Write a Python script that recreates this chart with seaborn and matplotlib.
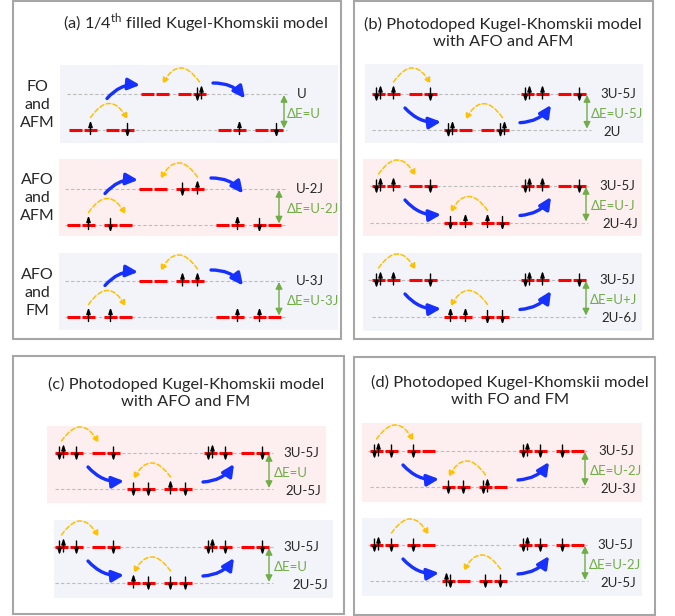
import matplotlib
matplotlib.use("Agg")
import matplotlib.pyplot as plt
from matplotlib.patches import FancyArrowPatch, Rectangle
import seaborn as sns

sns.set_theme(style="white")
plt.rcParams["font.family"] = ["Lato", "DejaVu Sans"]
plt.rcParams["mathtext.fontset"] = "custom"
plt.rcParams["mathtext.rm"] = "Lato"

# ---------------- content ----------------
title_a = "(a) 1/4$^{\\mathrm{th}}$ filled Kugel-Khomskii model"
title_b = "(b) Photodoped Kugel-Khomskii model\nwith AFO and AFM"
title_c = "(c) Photodoped Kugel-Khomskii model\nwith AFO and FM"
title_d = "(d) Photodoped Kugel-Khomskii model\nwith FO and FM"

row_labels_a = ["FO\nand\nAFM", "AFO\nand\nAFM", "AFO\nand\nFM"]

# Orbital occupations of a two-site state: ((site A orb1, orb2), (site B orb1, orb2))
# 'u' = spin up, 'd' = spin down, two letters = doubly occupied orbital
a_outer = [(("", "u"), ("", "d")), (("", "u"), ("d", "")), (("", "u"), ("u", ""))]
a_middle = [(("", ""), ("", "du")), (("", ""), ("d", "u")), (("", ""), ("u", "u"))]
b_outer = [(("du", "u"), ("", "d"))] * 3
b_middle = [(("du", ""), ("", "du")), (("d", "u"), ("u", "d")), (("u", "u"), ("d", "d"))]
c_outer = [(("du", "d"), ("", "d"))] * 2
c_middle = [(("d", "d"), ("u", "d")), (("u", "d"), ("d", "d"))]
d_outer = [(("du", "d"), ("d", ""))] * 2
d_middle = [(("d", "d"), ("du", "")), (("ud", ""), ("d", "d"))]

# Intra-pair hopping (orbital index 0..3 = A1, A2, B1, B2) on the outer state;
# the middle state hops back the other way
a_hops = [(1, 3), (1, 3), (1, 3)]
b_hops = [(1, 3), (0, 2), (0, 2)]
c_hops = [(0, 2), (0, 2)]
d_hops = [(0, 2), (1, 3)]

# Energy labels: upper level, lower level, gap
a_upper = ["U", "U-2J", "U-3J"]
a_lower = ["", "", ""]
a_gap = ["ΔE=U", "ΔE=U-2J", "ΔE=U-3J"]
b_upper = ["3U-5J", "3U-5J", "3U-5J"]
b_lower = ["2U", "2U-4J", "2U-6J"]
b_gap = ["ΔE=U-5J", "ΔE=U-J", "ΔE=U+J"]
c_upper = ["3U-5J", "3U-5J"]
c_lower = ["2U-5J", "2U-5J"]
c_gap = ["ΔE=U", "ΔE=U"]
d_upper = ["3U-5J", "3U-5J"]
d_lower = ["2U-3J", "2U-5J"]
d_gap = ["ΔE=U-2J", "ΔE=U-2J"]

# ---------------- styling ----------------
RED = "#ff0000"
BLUE = "#1530ff"
ORANGE = "#ffc000"
GREEN = "#70ad47"
GREYLINE = "#bdbdbd"
BORDER = "#a6a6a6"
BG = {"blue": "#f2f4f9", "pink": "#fdefef"}
LABEL_FS = 9.5

fig = plt.figure(figsize=(6.75, 6.16), dpi=100)
ax = fig.add_axes([0, 0, 1, 1])
ax.set_xlim(0, 675)
ax.set_ylim(616, 0)
ax.axis("off")

# panel frames
for (x0, y0, x1, y1) in [(13, 1, 341, 339), (354, 1, 653, 339),
                         (13, 356, 344, 614), (354, 357, 655, 615)]:
    ax.add_patch(Rectangle((x0, y0), x1 - x0, y1 - y0, fill=False,
                           edgecolor=BORDER, lw=1.5, zorder=0))

ax.text(195, 23, title_a, ha="center", va="center", fontsize=11.8)
ax.text(503, 33, title_b, ha="center", va="center", fontsize=11.8,
        linespacing=1.3, multialignment="center")
ax.text(186, 393, title_c, ha="center", va="center", fontsize=11.8,
        linespacing=1.3, multialignment="center")
ax.text(510, 391, title_d, ha="center", va="center", fontsize=11.8,
        linespacing=1.3, multialignment="center")

for lab, yc in zip(row_labels_a, [105, 198, 293]):
    ax.text(37, yc, lab, ha="center", va="center", fontsize=11.5,
            linespacing=1.4, multialignment="center")


def centers(x0):
    return [x0 + 6.5, x0 + 21.5, x0 + 43.5, x0 + 58.5]


def spin(x, y, ch):
    if ch == "u":
        tail, tip = y + 5, y - 9
    else:
        tail, tip = y - 6, y + 8
    ax.annotate("", xy=(x, tip), xytext=(x, tail), zorder=4,
                arrowprops=dict(arrowstyle="-|>,head_length=0.5,head_width=0.17",
                                color="black", lw=1.0, shrinkA=0, shrinkB=0,
                                mutation_scale=7))


def state(x0, y, sites):
    occ = [o for site in sites for o in site]
    for xc, s in zip(centers(x0), occ):
        ax.plot([xc - 6.5, xc + 6.5], [y, y], color=RED, lw=2.2,
                solid_capstyle="butt", zorder=3)
        offs = [0.0] if len(s) == 1 else [-2.0, 2.0]
        for dx, ch in zip(offs, s):
            spin(xc + dx, y, ch)


def hop(x0, y, i, j):
    c = centers(x0)
    sgn = 1 if c[j] > c[i] else -1
    ax.add_patch(FancyArrowPatch((c[i], y - 12), (c[j], y - 10),
                                 connectionstyle=f"arc3,rad={-0.8 * sgn}",
                                 arrowstyle="-|>,head_length=0.5,head_width=0.25",
                                 mutation_scale=7, lw=1.1, color=ORANGE,
                                 linestyle=(0, (3, 1.6)), shrinkA=0, shrinkB=0,
                                 zorder=5))


def blue(p0, p1, rad):
    ax.add_patch(FancyArrowPatch(p0, p1, connectionstyle=f"arc3,rad={rad}",
                                 arrowstyle="-|>,head_length=0.7,head_width=0.34",
                                 mutation_scale=10, lw=2.4, color=BLUE,
                                 shrinkA=0, shrinkB=0, zorder=5))


def row(kind, bg, col, up, lo, L, line_up, line_lo, arr_x, lab_x,
        outer, middle, hp, t_up, t_lo, t_gap):
    x0, y0, x1, y1 = bg
    ax.add_patch(Rectangle((x0, y0), x1 - x0, y1 - y0, facecolor=BG[col],
                           edgecolor="none", zorder=0.5))
    ax.plot(line_up, [up, up], color=GREYLINE, lw=0.8, ls=(0, (3, 2)), zorder=1)
    ax.plot(line_lo, [lo, lo], color=GREYLINE, lw=0.8, ls=(0, (3, 2)), zorder=1)
    M, R = L + 72, L + 149
    y_out, y_mid = (lo, up) if kind == "down" else (up, lo)
    state(L, y_out, outer)
    state(M, y_mid, middle)
    state(R, y_out, outer)
    hop(L, y_out, hp[0], hp[1])
    hop(M, y_mid, hp[1], hp[0])
    if kind == "down":
        blue((L + 38, lo - 31), (M - 1, up - 9), -0.25)
        blue((M + 72, up - 11), (R + 27, lo - 31), -0.25)
    else:
        blue((L + 33, up + 14), (M - 3, lo - 8), 0.25)
        blue((M + 76, lo - 7), (R + 30, up + 11), 0.25)
    ax.add_patch(FancyArrowPatch((arr_x, lo - 1), (arr_x, up + 1),
                                 arrowstyle="<|-|>,head_length=0.5,head_width=0.25",
                                 mutation_scale=8, lw=1.0, color=GREEN,
                                 shrinkA=0, shrinkB=0, zorder=5))
    ux, gx, lx = lab_x
    ax.text(ux, up, t_up, ha="left", va="center", fontsize=LABEL_FS)
    ax.text(gx, (up + lo) / 2 + 2, t_gap, ha="left", va="center",
            fontsize=LABEL_FS, color=GREEN)
    if t_lo:
        ax.text(lx, lo + 2, t_lo, ha="left", va="center", fontsize=LABEL_FS)


# panel (a)
a_layout = [
    ((60, 65, 338, 143), "blue", 94, 129.5, 69, (67, 287), (69, 287), 284, (297, 287, 0)),
    ((59, 159, 338, 236), "pink", 189, 224.5, 67, (65, 286), (65, 286), 279, (296, 287, 0)),
    ((59, 253, 338, 330), "blue", 281, 316.5, 67, (65, 286), (65, 286), 279, (296, 287, 0)),
]
for k, lay in enumerate(a_layout):
    row("down", *lay, a_outer[k], a_middle[k], a_hops[k], a_upper[k], a_lower[k], a_gap[k])

# panel (b)
b_layout = [
    ((365, 64, 643, 143), "blue", 94, 129.7, 372, (372, 589), (372, 591), 587, (600, 591, 603)),
    ((363, 159, 642, 236), "pink", 186, 222.5, 372, (370, 588), (370, 588), 586, (599, 591, 602)),
    ((363, 253, 642, 331), "blue", 280, 316.5, 372, (368, 586), (372, 586), 586, (599, 590, 601)),
]
for k, lay in enumerate(b_layout):
    row("up", *lay, b_outer[k], b_middle[k], b_hops[k], b_upper[k], b_lower[k], b_gap[k])

# panel (c)
c_layout = [
    ((47, 426, 326, 503), "pink", 453, 489, 55, (55, 273), (55, 273), 269, (283, 274, 285)),
    ((54, 520, 333, 598), "blue", 547, 583, 55, (53, 273), (55, 273), 269, (283, 274, 292)),
]
for k, lay in enumerate(c_layout):
    row("up", *lay, c_outer[k], c_middle[k], c_hops[k], c_upper[k], c_lower[k], c_gap[k])

# panel (d)
d_layout = [
    ((362, 423, 642, 502), "pink", 451, 487, 370, (368, 587), (370, 588), 585, (598, 590, 600)),
    ((362, 518, 642, 596), "blue", 545, 581, 370, (368, 587), (370, 588), 585, (597, 589, 600)),
]
for k, lay in enumerate(d_layout):
    row("up", *lay, d_outer[k], d_middle[k], d_hops[k], d_upper[k], d_lower[k], d_gap[k])

fig.savefig("out.png", dpi=100, facecolor="white")
